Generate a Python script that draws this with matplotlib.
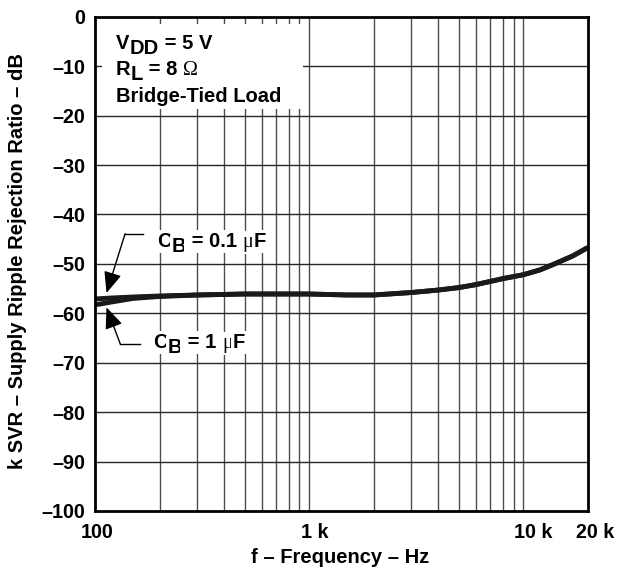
import matplotlib
matplotlib.use("Agg")
import matplotlib.pyplot as plt
from matplotlib.patches import Rectangle
from matplotlib.transforms import ScaledTranslation

plt.rcParams['font.family'] = ['Liberation Sans', 'DejaVu Sans']
plt.rcParams['font.weight'] = 'bold'

# curve data
freq = [100, 120, 150, 200, 300, 500, 700, 1000, 1500, 2000, 3000, 4000,
        5000, 6000, 8000, 10000, 12000, 14000, 17000, 20000]
svr_01uF = [-57.1, -56.9, -56.7, -56.5, -56.3, -56.1, -56.1, -56.1, -56.3,
            -56.3, -55.8, -55.3, -54.8, -54.2, -53.0, -52.2, -51.2, -50.0,
            -48.4, -46.7]
svr_1uF = [-58.3, -57.7, -57.0, -56.6, -56.3, -56.1, -56.1, -56.1, -56.3,
           -56.3, -55.8, -55.3, -54.8, -54.2, -53.0, -52.2, -51.2, -50.0,
           -48.4, -46.7]

yticks = list(range(0, -101, -10))
ytick_labels = ['0'] + ['\u2013%d' % abs(v) for v in yticks[1:]]
xticks = [100, 1000, 10000, 20000]
xtick_labels = ['100', '1 k', '10 k', '20 k']

SERIF = ['Liberation Serif', 'DejaVu Serif']


def chain_text(ax, x, y, parts, fs, **kw):
    # draws text pieces one after another; sub pieces are dropped like subscripts
    prev = None
    for part in parts:
        txt, sub = part[0], part[1]
        fam = part[2] if len(part) > 2 else None
        extra = dict(kw)
        if fam is not None:
            extra['family'] = fam
            extra['fontweight'] = 'normal'
        off = (0, -3.6 if sub else 0)
        xyc = 'data' if prev is None else (prev, 'data')
        xy = (x, y) if prev is None else (1, y)
        prev = ax.annotate(txt, xy=xy, xycoords=xyc, xytext=off,
                           textcoords='offset points', fontsize=fs,
                           ha='left', va='baseline', annotation_clip=False,
                           **extra)
    return prev


fig = plt.figure(figsize=(6.26, 5.78), dpi=100)
ax = fig.add_axes([0.152, 0.116, 0.787, 0.855])

ax.set_xscale('log')
ax.set_xlim(100, 20000)
ax.set_ylim(-100, 0)

# grid: every minor decade line and every 10 dB
gx = [m * 10**d for d in (2, 3) for m in range(2, 10)] + [1000, 10000]
for g in gx:
    ax.axvline(g, color='0.3', lw=1.0, zorder=1)
for g in yticks[1:-1]:
    ax.axhline(g, color='0.15', lw=1.0, zorder=1)

# white box behind the conditions text
ax.add_patch(Rectangle((108, -18.6), 935 - 108, 17.2, facecolor='white',
                       edgecolor='none', zorder=2))

ax.plot(freq, svr_1uF, color='#1a1a1a', lw=3.5, zorder=4, solid_capstyle='butt')
ax.plot(freq, svr_01uF, color='#1a1a1a', lw=3.5, zorder=4, solid_capstyle='butt')

fs = 14.5
chain_text(ax, 125, -6.5, [('V', False), ('DD', True), (' = 5 V', False)], fs, zorder=3)
chain_text(ax, 125, -11.8, [('R', False), ('L', True), (' = 8 ', False),
                            ('\u03a9', False, SERIF)], fs, zorder=3)
ax.text(125, -17.2, 'Bridge-Tied Load', fontsize=fs, va='baseline', zorder=3)

# curve labels with leader arrows
wb = dict(facecolor='white', edgecolor='none', pad=1.5)
chain_text(ax, 195, -46.5, [('C', False), ('B', True), (' = 0.1 ', False),
                            ('\u03bc', False, SERIF), ('F', False)],
           fs, zorder=3, bbox=wb)
ax.plot([167, 138], [-43.9, -43.9], color='black', lw=1.0, zorder=5)
ax.annotate('', xy=(113, -55.9), xytext=(138, -43.9), zorder=5,
            arrowprops=dict(arrowstyle='-|>,head_length=1.0,head_width=0.42',
                            mutation_scale=13, color='black', lw=1.0,
                            shrinkA=0, shrinkB=0))

chain_text(ax, 187, -67.0, [('C', False), ('B', True), (' = 1 ', False),
                            ('\u03bc', False, SERIF), ('F', False)],
           fs, zorder=3, bbox=wb)
ax.plot([162, 131], [-66.2, -66.2], color='black', lw=1.0, zorder=5)
ax.annotate('', xy=(113, -58.8), xytext=(131, -66.2), zorder=5,
            arrowprops=dict(arrowstyle='-|>,head_length=1.0,head_width=0.42',
                            mutation_scale=13, color='black', lw=1.0,
                            shrinkA=0, shrinkB=0))

ax.set_xticks(xticks)
ax.set_xticklabels(xtick_labels, fontsize=14.2)
ax.xaxis.set_minor_locator(matplotlib.ticker.NullLocator())
ax.set_yticks(yticks)
ax.set_yticklabels(ytick_labels, fontsize=14.2)
ax.tick_params(axis='x', length=0, pad=9)
ax.tick_params(axis='y', length=0, pad=7)

# the k labels sit a little right of their grid lines in the original
for lab, dx in zip(ax.get_xticklabels(), [2, 5, 10, 7]):
    lab.set_transform(lab.get_transform() + ScaledTranslation(dx / 100, 0, fig.dpi_scale_trans))

for s in ax.spines.values():
    s.set_linewidth(2.0)
    s.set_zorder(6)

fig.text(0.543, 0.035, 'f \u2013 Frequency \u2013 Hz', fontsize=14.5,
         ha='center', va='center')
fig.text(0.028, 0.548, 'k SVR \u2013 Supply Ripple Rejection Ratio \u2013 dB',
         fontsize=14.5, rotation=90, ha='center', va='center')

fig.savefig('out.png', dpi=100)
